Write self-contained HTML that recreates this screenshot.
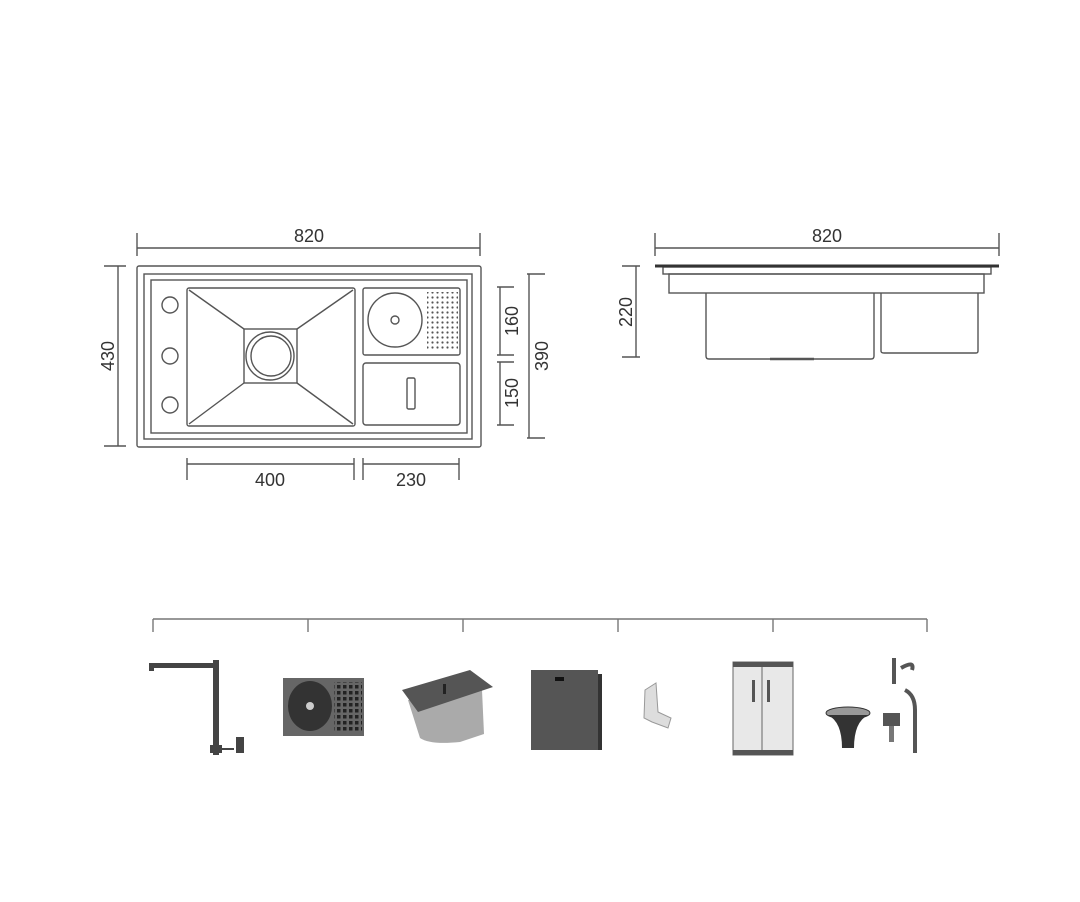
<!DOCTYPE html>
<html><head><meta charset="utf-8"><style>
html,body{margin:0;padding:0;background:#fff;}
svg{display:block;}
text{font-family:"Liberation Sans",sans-serif;font-size:18px;fill:#333;}
</style></head><body>
<svg width="1080" height="902" viewBox="0 0 1080 902" xmlns="http://www.w3.org/2000/svg">
<defs>
<pattern id="dots" width="5" height="5" patternUnits="userSpaceOnUse"><circle cx="2.5" cy="2.5" r="1.1" fill="#555"/></pattern>
<pattern id="dots2" width="6" height="6" patternUnits="userSpaceOnUse"><rect x="1" y="1" width="3.5" height="3.5" fill="#222"/></pattern>
</defs>
<g fill="none" stroke="#555" stroke-width="1.4">
<!-- top plan dims -->
<line x1="137" y1="248" x2="480" y2="248"/><line x1="137" y1="233" x2="137" y2="256"/><line x1="480" y1="233" x2="480" y2="256"/>
<rect x="137" y="266" width="344" height="181" rx="2"/>
<rect x="144" y="274" width="328" height="165"/>
<rect x="151" y="280" width="316" height="153"/>
<rect x="187" y="288" width="168" height="138" rx="2"/>
<rect x="244" y="329" width="53" height="54"/>
<line x1="189" y1="290" x2="244" y2="329"/><line x1="353" y1="290" x2="297" y2="329"/>
<line x1="189" y1="424" x2="244" y2="383"/><line x1="353" y1="424" x2="297" y2="383"/>
<circle cx="270" cy="356" r="24"/><circle cx="271" cy="356" r="20"/>
<circle cx="170" cy="305" r="8"/><circle cx="170" cy="356" r="8"/><circle cx="170" cy="405" r="8"/>
<rect x="363" y="288" width="97" height="67" rx="2"/>
<circle cx="395" cy="320" r="27"/><circle cx="395" cy="320" r="4"/>
<rect x="363" y="363" width="97" height="62" rx="3"/>
<rect x="407" y="378" width="8" height="31" rx="1.5"/>
<!-- left 430 -->
<line x1="118" y1="266" x2="118" y2="446"/><line x1="104" y1="266" x2="126" y2="266"/><line x1="104" y1="446" x2="126" y2="446"/>
<!-- 160/150/390 -->
<line x1="500" y1="287" x2="500" y2="355"/><line x1="497" y1="287" x2="514" y2="287"/><line x1="497" y1="355" x2="514" y2="355"/>
<line x1="500" y1="362" x2="500" y2="425"/><line x1="497" y1="362" x2="514" y2="362"/><line x1="497" y1="425" x2="514" y2="425"/>
<line x1="529" y1="274" x2="529" y2="438"/><line x1="527" y1="274" x2="545" y2="274"/><line x1="527" y1="438" x2="545" y2="438"/>
<!-- bottom dims -->
<line x1="187" y1="464" x2="354" y2="464"/><line x1="187" y1="458" x2="187" y2="480"/><line x1="354" y1="458" x2="354" y2="480"/>
<line x1="363" y1="464" x2="459" y2="464"/><line x1="363" y1="458" x2="363" y2="480"/><line x1="459" y1="458" x2="459" y2="480"/>
<!-- side view -->
<line x1="655" y1="248" x2="999" y2="248"/><line x1="655" y1="233" x2="655" y2="256"/><line x1="999" y1="233" x2="999" y2="256"/>
<rect x="663" y="267" width="328" height="7"/>
<rect x="669" y="274" width="315" height="19"/>
<path d="M706 293 V356 Q706 359 709 359 H871 Q874 359 874 356 V293"/>
<path d="M881 293 V351 Q881 353 884 353 H976 Q978 353 978 351 V293"/>
<line x1="770" y1="359" x2="814" y2="359" stroke-width="2.5"/>
<line x1="636" y1="266" x2="636" y2="357"/><line x1="622" y1="266" x2="640" y2="266"/><line x1="622" y1="357" x2="640" y2="357"/>
<!-- bracket line -->
<line x1="153" y1="619" x2="927" y2="619" stroke="#777"/>
<g stroke="#777"><line x1="153" y1="619" x2="153" y2="632"/><line x1="308" y1="619" x2="308" y2="632"/><line x1="463" y1="619" x2="463" y2="632"/><line x1="618" y1="619" x2="618" y2="632"/><line x1="773" y1="619" x2="773" y2="632"/><line x1="927" y1="619" x2="927" y2="632"/></g>
</g>
<line x1="655" y1="266" x2="999" y2="266" stroke="#333" stroke-width="3"/>
<rect x="427" y="292" width="31" height="57" fill="url(#dots)"/>
<text x="309" y="242" text-anchor="middle">820</text>
<text x="827" y="242" text-anchor="middle">820</text>
<text x="270" y="486" text-anchor="middle">400</text>
<text x="411" y="486" text-anchor="middle">230</text>
<text transform="translate(114,356) rotate(-90)" text-anchor="middle">430</text>
<text transform="translate(518,321) rotate(-90)" text-anchor="middle">160</text>
<text transform="translate(518,393) rotate(-90)" text-anchor="middle">150</text>
<text transform="translate(548,356) rotate(-90)" text-anchor="middle">390</text>
<text transform="translate(632,312) rotate(-90)" text-anchor="middle">220</text>
<!-- products -->
<!-- faucet -->
<g fill="#444">
<rect x="150" y="663" width="68" height="5"/><rect x="149" y="663" width="5" height="8"/>
<rect x="213" y="660" width="6" height="95"/><rect x="210" y="745" width="12" height="8"/>
<rect x="222" y="748" width="12" height="2"/><rect x="236" y="737" width="8" height="16"/>
</g>
<!-- glass rinser -->
<rect x="283" y="678" width="81" height="58" fill="#666"/>
<rect x="334" y="682" width="28" height="50" fill="url(#dots2)"/>
<ellipse cx="310" cy="706" rx="22" ry="25" fill="#333"/>
<circle cx="310" cy="706" r="4" fill="#ccc"/>
<!-- bin -->
<path d="M408 700 L420 738 Q430 745 460 742 L484 734 L482 690 Z" fill="#aaa"/>
<path d="M402 690 L470 670 L493 687 L418 712 Z" fill="#555"/>
<rect x="443" y="684" width="3" height="10" fill="#222"/>
<!-- board -->
<rect x="531" y="670" width="67" height="80" fill="#555"/>
<rect x="598" y="674" width="4" height="76" fill="#333"/>
<rect x="555" y="677" width="9" height="4" fill="#111"/>
<!-- bracket -->
<path d="M645 690 L656 683 L658 712 L671 718 L668 728 L652 722 L644 718 Z" fill="#ddd" stroke="#999"/>
<!-- drain rack -->
<rect x="733" y="662" width="60" height="93" fill="#e8e8e8" stroke="#666"/>
<rect x="733" y="662" width="60" height="5" fill="#555"/>
<rect x="733" y="750" width="60" height="5" fill="#555"/>
<line x1="762" y1="667" x2="762" y2="750" stroke="#666"/>
<rect x="752" y="680" width="3" height="22" fill="#555"/><rect x="767" y="680" width="3" height="22" fill="#555"/>
<!-- drain -->
<ellipse cx="848" cy="713" rx="22" ry="6" fill="#999" stroke="#333"/>
<path d="M828 715 Q842 722 842 748 H854 Q854 722 868 715 Z" fill="#333"/>
<rect x="883" y="713" width="17" height="13" fill="#555"/><rect x="889" y="726" width="5" height="16" fill="#777"/>
<path d="M894 658 V684 M901 668 Q915 660 912 670 M905 690 Q915 695 915 710 V753" stroke="#555" stroke-width="4" fill="none"/>
</svg>
</body></html>
